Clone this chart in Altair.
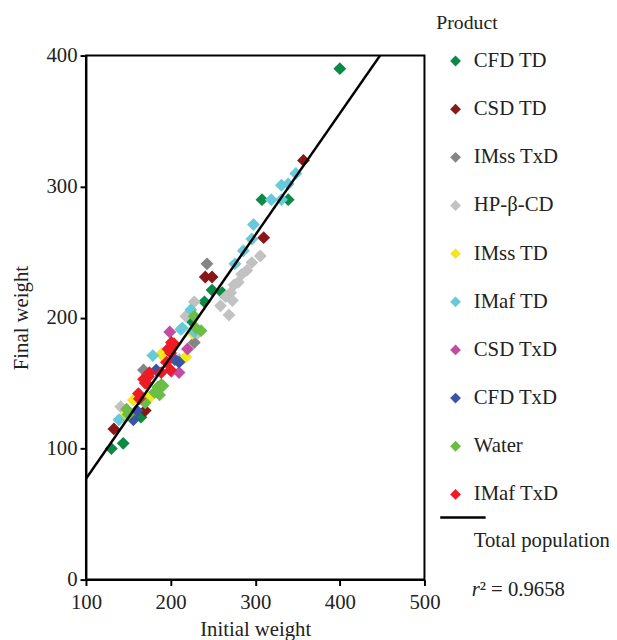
import altair as alt
import pandas as pd

products = ["CFD TD", "CSD TD", "IMss TxD", "HP-β-CD", "IMss TD",
            "IMaf TD", "CSD TxD", "CFD TxD", "Water", "IMaf TxD"]
colors = ["#0a8a44", "#891618", "#858585", "#c2c2c2", "#f2e81a",
          "#67cadb", "#c04d9f", "#3a55a5", "#6cbd45", "#ed1c24"]

initial = {
    "CFD TD": [400, 308, 339, 249, 261, 240, 224, 130, 144, 165],
    "CSD TD": [357, 310, 241, 249, 133, 170, 173],
    "IMss TxD": [243, 228, 168],
    "HP-β-CD": [306, 296, 290, 284, 280, 275, 271, 265, 273, 259, 269, 228, 218, 210, 232, 141],
    "IMss TD": [189, 226, 156, 144, 175, 218],
    "IMaf TD": [348, 331, 339, 319, 331, 298, 296, 286, 276, 224, 214, 212, 179, 139, 228],
    "CSD TxD": [199, 201, 220, 210],
    "CFD TxD": [156, 160, 205, 183, 210],
    "Water": [185, 181, 170, 148, 189, 228, 230, 191, 187, 236, 150],
    "IMaf TxD": [162, 170, 201, 197, 195, 174, 168, 189, 204, 175, 171, 200, 163, 200],
}
final = {
    "CFD TD": [390, 290, 290, 221, 219, 212, 198, 100, 104, 124],
    "CSD TD": [320, 261, 231, 231, 115, 129, 157],
    "IMss TxD": [241, 181, 160],
    "HP-β-CD": [247, 242, 236, 233, 227, 225, 219, 216, 213, 209, 202, 212, 201, 168, 188, 132],
    "IMss TD": [172, 188, 137, 124, 139, 170],
    "IMaf TD": [310, 301, 302, 290, 290, 271, 260, 251, 241, 206, 192, 191, 171, 122, 189],
    "CSD TxD": [189, 159, 176, 158],
    "CFD TxD": [122, 129, 168, 160, 166],
    "Water": [147, 143, 135, 130, 149, 201, 192, 148, 141, 190, 126],
    "IMaf TxD": [142, 150, 181, 176, 166, 155, 153, 158, 180, 158, 150, 160, 138, 173],
}

line_x = [100, 447.5]
line_y = [77, 400]

x_ticks = [100, 200, 300, 400, 500]
y_ticks = [0, 100, 200, 300, 400]

rows = []
i = 0
for p in products:
    for xv, yv in zip(initial[p], final[p]):
        rows.append({"initial": xv, "final": yv, "product": p, "idx": i})
        i += 1
df = pd.DataFrame(rows)
line_df = pd.DataFrame({"initial": line_x, "final": line_y})

FONT = "Liberation Serif"
FS = 21

xscale = alt.Scale(domain=[100, 500], nice=False, zero=False)
yscale = alt.Scale(domain=[0, 400], nice=False)

points = alt.Chart(df).mark_point(
    shape="diamond", filled=True, size=170, opacity=1, strokeWidth=0
).encode(
    x=alt.X("initial:Q", scale=xscale,
            axis=alt.Axis(values=x_ticks, title="Initial weight", labelFlush=False,
                          labelPadding=6, titlePadding=7)),
    y=alt.Y("final:Q", scale=yscale,
            axis=alt.Axis(values=y_ticks, title="Final weight", titlePadding=15)),
    color=alt.Color("product:N", sort=products,
                    scale=alt.Scale(domain=products, range=colors),
                    legend=alt.Legend(title=None, orient="none", legendX=364, legendY=-5,
                                      symbolType="diamond", symbolSize=120,
                                      symbolStrokeWidth=0, labelFont=FONT,
                                      labelFontSize=FS, labelColor="#222",
                                      rowPadding=26.8, labelOffset=8, labelLimit=300)),
    order=alt.Order("idx:Q"),
)

reg = alt.Chart(line_df).mark_line(color="black", strokeWidth=2.5, clip=True).encode(
    x=alt.X("initial:Q", scale=xscale),
    y=alt.Y("final:Q", scale=yscale),
)

one = pd.DataFrame({"a": [0]})
leg_title = alt.Chart(one).mark_text(
    text="Product", align="left", baseline="middle", font=FONT, fontSize=20, color="#222"
).encode(x=alt.value(355), y=alt.value(-33))
leg_rule = alt.Chart(one).mark_rule(color="black", strokeWidth=2.5).encode(
    x=alt.value(359), x2=alt.value(405), y=alt.value(468))
leg_text = alt.Chart(one).mark_text(
    text="Total population", align="left", baseline="middle", font=FONT, fontSize=FS, color="#222"
).encode(x=alt.value(393), y=alt.value(492))
r_text = alt.Chart(one).mark_text(
    text="r", align="left", baseline="middle", font=FONT, fontSize=FS,
    fontStyle="italic", color="#222"
).encode(x=alt.value(391), y=alt.value(542))
r2_text = alt.Chart(one).mark_text(
    text="² = 0.9658", align="left", baseline="middle", font=FONT, fontSize=FS, color="#222"
).encode(x=alt.value(399), y=alt.value(542))

chart = alt.layer(points, reg, leg_title, leg_rule, leg_text, r_text, r2_text).properties(
    width=343, height=531,
    padding={"left": 79, "top": 44, "right": 187, "bottom": 57},
    autosize=alt.AutoSizeParams(type="none"),
).configure_view(
    stroke="black", strokeWidth=2
).configure_axis(
    grid=False, domainColor="black", domainWidth=2, tickColor="black", tickWidth=2,
    tickSize=6, labelFont=FONT, labelFontSize=FS, labelColor="#222",
    titleFont=FONT, titleFontSize=FS, titleFontWeight="normal", titleColor="#222",
    labelPadding=3
)

chart.save("out.html", embed_options={"renderer": "svg", "actions": False})
